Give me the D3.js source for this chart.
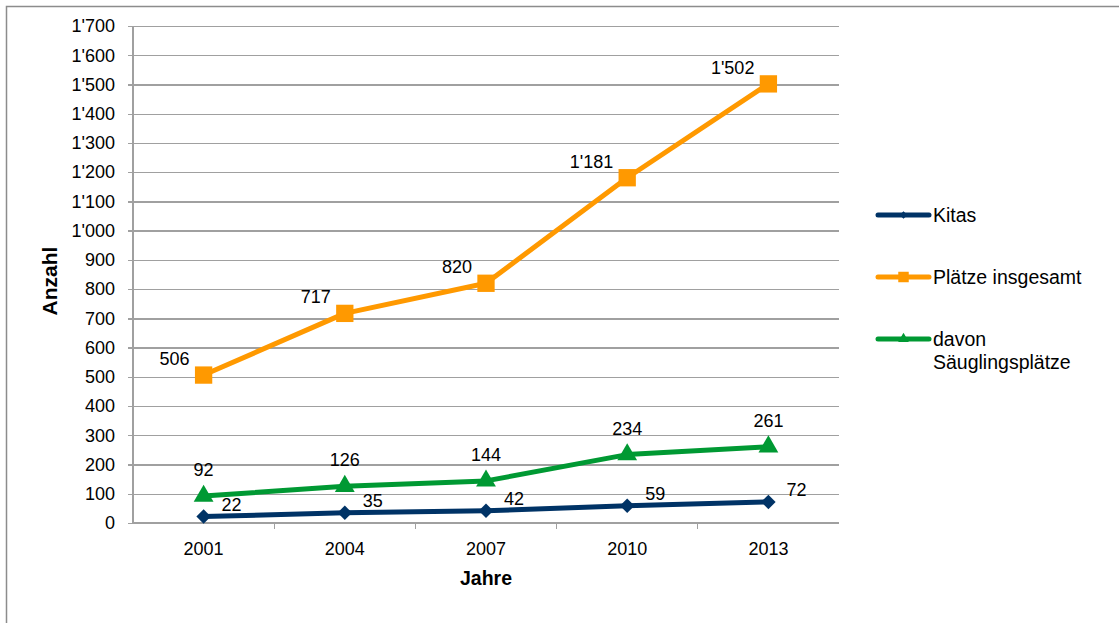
<!DOCTYPE html>
<meta charset="utf-8">
<script src="https://d3js.org/d3.v7.min.js"></script>
<style>
body { margin: 0; background: #fff; }
text { font-family: "Liberation Sans", Arial, sans-serif; fill: #000; }
.grid line { stroke: #a0a0a0; stroke-width: 1.3; shape-rendering: crispEdges; }
.grid path { stroke-width: 0; }
.axis path, .axis line { stroke: #a0a0a0; stroke-width: 1.3; shape-rendering: crispEdges; }
.axis text { font-size: 18px; }
.label { font-size: 18px; }
.legend text { font-size: 19.5px; }
</style>
<div id="chart"></div>
<script>
// data
var years = ["2001", "2004", "2007", "2010", "2013"];
var kitas = [22, 35, 42, 59, 72];
var plaetze = [506, 717, 820, 1181, 1502];
var saeuglinge = [92, 126, 144, 234, 261];
var yTicks = d3.range(0, 1701, 100);

var series = [
    {name: "Kitas", values: kitas, color: "#003366", marker: d3.symbolSquare, rotate: 45, size: 105, legendSize: 30, dx: 18, dy: -6, anchor: "start"},
    {name: "Plätze insgesamt", values: plaetze, color: "#ff9900", marker: d3.symbolSquare, rotate: 0, size: 300, legendSize: 110, dx: -14, dy: -10, anchor: "end"},
    {name: "davon Säuglingsplätze", lines: ["davon", "Säuglingsplätze"], values: saeuglinge, color: "#009933", marker: d3.symbolTriangle, rotate: 0, size: 170, legendSize: 50, dx: 0, dy: -20, anchor: "middle"}
];

var loc = d3.formatLocale({decimal: ".", thousands: "'", grouping: [3], currency: ["", ""]});
var fmt = loc.format(",d");

var W = 1119, H = 623;
var margin = {top: 26, left: 133, right: 280, bottom: 100};
var width = W - margin.left - margin.right,
    height = 523 - margin.top;

var svg = d3.select("#chart").append("svg")
    .attr("width", W).attr("height", H);

// outer border
svg.append("rect")
    .attr("x", 6.5).attr("y", 6.5)
    .attr("width", W - 1.5).attr("height", H)
    .attr("fill", "none").attr("stroke", "#8c8c8c").attr("stroke-width", 1.5);

var g = svg.append("g")
    .attr("transform", "translate(" + margin.left + "," + margin.top + ")");

var x = d3.scaleBand().domain(years).range([0, width]);
var y = d3.scaleLinear().domain([0, 1700]).range([height, 0]);

// horizontal grid
g.append("g").attr("class", "grid")
    .call(d3.axisLeft(y).tickValues(yTicks).tickSize(-width).tickFormat(""));

// y axis
g.append("g").attr("class", "axis")
    .call(d3.axisLeft(y).tickValues(yTicks).tickSize(5).tickPadding(13).tickFormat(fmt))
    .call(g => g.select(".domain").attr("d", "M0,0V" + height));

// x axis with ticks between categories
var xAxis = g.append("g").attr("class", "axis")
    .attr("transform", "translate(0," + height + ")");
xAxis.append("path").attr("d", "M0,0H" + width).attr("fill", "none");
xAxis.selectAll(".sep")
    .data(years.slice(1))
    .enter().append("line")
    .attr("x1", d => x(d)).attr("x2", d => x(d))
    .attr("y1", 0).attr("y2", 6);
xAxis.selectAll(".lab")
    .data(years)
    .enter().append("text")
    .attr("x", d => x(d) + x.bandwidth() / 2)
    .attr("y", 32)
    .attr("text-anchor", "middle")
    .text(d => d);

var cx = function(i) { return x(years[i]) + x.bandwidth() / 2; };

var line = d3.line()
    .x((d, i) => cx(i))
    .y(d => y(d));

series.forEach(function(s) {
    g.append("path")
        .datum(s.values)
        .attr("d", line)
        .attr("fill", "none")
        .attr("stroke", s.color)
        .attr("stroke-width", 5)
        .attr("stroke-linejoin", "round");

    g.selectAll(null)
        .data(s.values)
        .enter().append("path")
        .attr("transform", (d, i) => "translate(" + cx(i) + "," + y(d) + ") rotate(" + s.rotate + ")")
        .attr("d", d3.symbol().type(s.marker).size(s.size))
        .attr("fill", s.color);

    g.selectAll(null)
        .data(s.values)
        .enter().append("text")
        .attr("class", "label")
        .attr("x", (d, i) => cx(i) + s.dx)
        .attr("y", d => y(d) + s.dy)
        .attr("text-anchor", s.anchor)
        .text(d => fmt(d));
});

// axis titles
svg.append("text")
    .attr("transform", "translate(57," + 281 + ") rotate(-90)")
    .attr("text-anchor", "middle")
    .attr("font-weight", "bold")
    .attr("font-size", "21px")
    .text("Anzahl");

svg.append("text")
    .attr("x", margin.left + width / 2)
    .attr("y", 585)
    .attr("text-anchor", "middle")
    .attr("font-weight", "bold")
    .attr("font-size", "19.5px")
    .text("Jahre");

// legend
var legendY = [215, 277, 339];
var legend = svg.append("g").attr("class", "legend");
series.forEach(function(s, i) {
    var ly = legendY[i];
    legend.append("line")
        .attr("x1", 878).attr("x2", 929)
        .attr("y1", ly).attr("y2", ly)
        .attr("stroke", s.color).attr("stroke-width", 5)
        .attr("stroke-linecap", "round");
    legend.append("path")
        .attr("transform", "translate(903.5," + ly + ") rotate(" + s.rotate + ")")
        .attr("d", d3.symbol().type(s.marker).size(s.legendSize))
        .attr("fill", s.color);
    var t = legend.append("text")
        .attr("x", 933).attr("y", ly + 7);
    (s.lines || [s.name]).forEach(function(l, j) {
        t.append("tspan").attr("x", 933).attr("dy", j ? 23 : 0).text(l);
    });
});
</script>
